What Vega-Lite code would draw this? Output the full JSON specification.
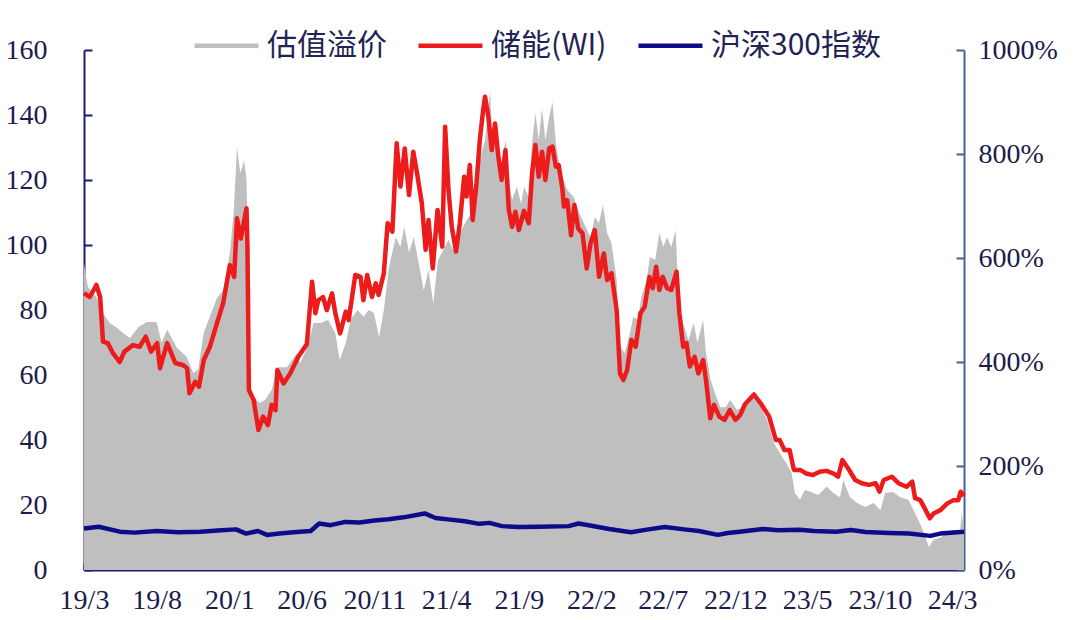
{
  "$schema": "https://vega.github.io/schema/vega-lite/v6.json",
  "width": 880,
  "height": 520,
  "autosize": {"type": "none"},
  "padding": {"left": 84, "top": 50, "right": 116, "bottom": 50},
  "background": "white",
  "config": {
    "view": {"stroke": null},
    "axis": {"grid": false, "labelFont": "Liberation Serif", "labelFontSize": 28, "labelColor": "#1b1b4d", "title": null}
  },
  "datasets": {
    "premium": [
      {"date": "2019-03-01", "premium": 5.90}, {"date": "2019-03-09", "premium": 5.44}, {"date": "2019-03-27", "premium": 5.25},
      {"date": "2019-04-10", "premium": 4.94}, {"date": "2019-04-24", "premium": 4.75}, {"date": "2019-05-08", "premium": 4.67},
      {"date": "2019-05-22", "premium": 4.56}, {"date": "2019-06-06", "premium": 4.46}, {"date": "2019-06-23", "premium": 4.67},
      {"date": "2019-07-11", "premium": 4.77}, {"date": "2019-08-01", "premium": 4.77}, {"date": "2019-08-11", "premium": 4.37},
      {"date": "2019-08-23", "premium": 4.62}, {"date": "2019-09-13", "premium": 4.27}, {"date": "2019-10-03", "premium": 4.10},
      {"date": "2019-10-17", "premium": 3.79}, {"date": "2019-10-27", "premium": 3.85}, {"date": "2019-11-08", "premium": 4.56},
      {"date": "2019-11-18", "premium": 4.81}, {"date": "2019-12-06", "premium": 5.23}, {"date": "2019-12-19", "premium": 5.38},
      {"date": "2020-01-02", "premium": 6.10}, {"date": "2020-01-10", "premium": 6.87}, {"date": "2020-01-17", "premium": 8.13},
      {"date": "2020-01-24", "premium": 7.63}, {"date": "2020-02-01", "premium": 7.88}, {"date": "2020-02-06", "premium": 7.50},
      {"date": "2020-02-09", "premium": 6.35}, {"date": "2020-02-11", "premium": 3.65}, {"date": "2020-02-21", "premium": 3.33},
      {"date": "2020-03-05", "premium": 3.21}, {"date": "2020-03-16", "premium": 3.27}, {"date": "2020-03-30", "premium": 3.46},
      {"date": "2020-04-10", "premium": 3.90}, {"date": "2020-05-01", "premium": 3.90}, {"date": "2020-05-22", "premium": 4.17},
      {"date": "2020-05-29", "premium": 3.98}, {"date": "2020-06-12", "premium": 4.26}, {"date": "2020-06-26", "premium": 4.75},
      {"date": "2020-07-10", "premium": 4.75}, {"date": "2020-07-27", "premium": 4.81}, {"date": "2020-08-11", "premium": 4.56},
      {"date": "2020-08-20", "premium": 4.04}, {"date": "2020-09-02", "premium": 4.37}, {"date": "2020-09-12", "premium": 4.81},
      {"date": "2020-09-26", "premium": 5.00}, {"date": "2020-10-10", "premium": 4.87}, {"date": "2020-10-20", "premium": 5.00},
      {"date": "2020-10-31", "premium": 4.94}, {"date": "2020-11-11", "premium": 4.48}, {"date": "2020-11-21", "premium": 5.00},
      {"date": "2020-12-02", "premium": 5.83}, {"date": "2020-12-16", "premium": 6.40}, {"date": "2020-12-26", "premium": 6.21},
      {"date": "2021-01-03", "premium": 6.60}, {"date": "2021-01-13", "premium": 6.10}, {"date": "2021-01-23", "premium": 6.40},
      {"date": "2021-02-04", "premium": 5.83}, {"date": "2021-02-13", "premium": 5.38}, {"date": "2021-02-23", "premium": 5.77},
      {"date": "2021-03-05", "premium": 5.13}, {"date": "2021-03-15", "premium": 5.96}, {"date": "2021-03-26", "premium": 6.15},
      {"date": "2021-04-06", "premium": 6.35}, {"date": "2021-04-16", "premium": 6.15}, {"date": "2021-04-27", "premium": 6.40},
      {"date": "2021-05-07", "premium": 6.60}, {"date": "2021-05-18", "premium": 6.79}, {"date": "2021-05-28", "premium": 6.87},
      {"date": "2021-06-05", "premium": 7.63}, {"date": "2021-06-15", "premium": 8.02}, {"date": "2021-06-22", "premium": 8.27},
      {"date": "2021-06-29", "premium": 8.90}, {"date": "2021-07-03", "premium": 9.19}, {"date": "2021-07-06", "premium": 8.46},
      {"date": "2021-07-17", "premium": 8.13}, {"date": "2021-07-27", "premium": 7.83}, {"date": "2021-08-04", "premium": 8.27},
      {"date": "2021-08-11", "premium": 7.50}, {"date": "2021-08-18", "premium": 7.12}, {"date": "2021-08-28", "premium": 7.37},
      {"date": "2021-09-06", "premium": 7.05}, {"date": "2021-09-12", "premium": 7.37}, {"date": "2021-09-22", "premium": 7.17},
      {"date": "2021-09-29", "premium": 8.21}, {"date": "2021-10-06", "premium": 8.79}, {"date": "2021-10-13", "premium": 8.27},
      {"date": "2021-10-20", "premium": 8.88}, {"date": "2021-10-27", "premium": 8.27}, {"date": "2021-11-04", "premium": 8.71},
      {"date": "2021-11-11", "premium": 9.00}, {"date": "2021-11-18", "premium": 8.21}, {"date": "2021-11-24", "premium": 7.88},
      {"date": "2021-12-02", "premium": 7.56}, {"date": "2021-12-12", "premium": 7.31}, {"date": "2021-12-26", "premium": 7.17},
      {"date": "2022-01-06", "premium": 6.87}, {"date": "2022-01-16", "premium": 6.67}, {"date": "2022-01-30", "premium": 6.40},
      {"date": "2022-02-08", "premium": 6.79}, {"date": "2022-02-17", "premium": 6.67}, {"date": "2022-02-25", "premium": 7.02},
      {"date": "2022-03-06", "premium": 6.48}, {"date": "2022-03-15", "premium": 6.29}, {"date": "2022-03-26", "premium": 5.58},
      {"date": "2022-04-02", "premium": 4.29}, {"date": "2022-04-12", "premium": 4.17}, {"date": "2022-04-23", "premium": 4.56},
      {"date": "2022-04-30", "premium": 4.87}, {"date": "2022-05-10", "premium": 4.81}, {"date": "2022-05-17", "premium": 5.25},
      {"date": "2022-05-28", "premium": 5.58}, {"date": "2022-06-04", "premium": 6.02}, {"date": "2022-06-15", "premium": 5.96},
      {"date": "2022-06-24", "premium": 6.48}, {"date": "2022-07-02", "premium": 6.21}, {"date": "2022-07-10", "premium": 6.40},
      {"date": "2022-07-19", "premium": 6.21}, {"date": "2022-07-28", "premium": 6.54}, {"date": "2022-08-05", "premium": 4.94},
      {"date": "2022-08-13", "premium": 4.75}, {"date": "2022-08-24", "premium": 4.42}, {"date": "2022-09-04", "premium": 4.75},
      {"date": "2022-09-12", "premium": 4.37}, {"date": "2022-09-24", "premium": 4.81}, {"date": "2022-09-30", "premium": 4.17},
      {"date": "2022-10-10", "premium": 3.65}, {"date": "2022-10-19", "premium": 3.40}, {"date": "2022-10-30", "premium": 3.13},
      {"date": "2022-11-10", "premium": 3.13}, {"date": "2022-11-20", "premium": 3.27}, {"date": "2022-12-04", "premium": 3.08},
      {"date": "2022-12-18", "premium": 3.13}, {"date": "2023-01-02", "premium": 3.27}, {"date": "2023-01-09", "premium": 3.33},
      {"date": "2023-01-23", "premium": 3.13}, {"date": "2023-02-06", "premium": 2.88}, {"date": "2023-02-20", "premium": 2.44},
      {"date": "2023-03-04", "premium": 2.25}, {"date": "2023-03-18", "premium": 2.06}, {"date": "2023-03-29", "premium": 1.87},
      {"date": "2023-04-05", "premium": 1.48}, {"date": "2023-04-16", "premium": 1.35}, {"date": "2023-04-26", "premium": 1.54},
      {"date": "2023-05-10", "premium": 1.50}, {"date": "2023-05-24", "premium": 1.44}, {"date": "2023-06-11", "premium": 1.60},
      {"date": "2023-06-25", "premium": 1.48}, {"date": "2023-07-09", "premium": 1.40}, {"date": "2023-07-16", "premium": 1.73},
      {"date": "2023-07-30", "premium": 1.40}, {"date": "2023-08-14", "premium": 1.29}, {"date": "2023-08-31", "premium": 1.21},
      {"date": "2023-09-18", "premium": 1.29}, {"date": "2023-10-02", "premium": 1.15}, {"date": "2023-10-12", "premium": 1.48},
      {"date": "2023-10-29", "premium": 1.50}, {"date": "2023-11-13", "premium": 1.40}, {"date": "2023-11-30", "premium": 1.35},
      {"date": "2023-12-11", "premium": 1.15}, {"date": "2023-12-21", "premium": 0.96}, {"date": "2024-01-02", "premium": 0.71},
      {"date": "2024-01-12", "premium": 0.44}, {"date": "2024-01-22", "premium": 0.58}, {"date": "2024-02-06", "premium": 0.63},
      {"date": "2024-02-20", "premium": 0.71}, {"date": "2024-03-04", "premium": 0.77}, {"date": "2024-03-18", "premium": 0.77},
      {"date": "2024-03-21", "premium": 1.10}, {"date": "2024-03-26", "premium": 0.77}
    ],
    "index": [
      {"date": "2019-03-01", "series": "沪深300指数", "value": 12.8}, {"date": "2019-04-01", "series": "沪深300指数", "value": 13.3},
      {"date": "2019-05-15", "series": "沪深300指数", "value": 11.8}, {"date": "2019-06-15", "series": "沪深300指数", "value": 11.5},
      {"date": "2019-08-01", "series": "沪深300指数", "value": 12.0}, {"date": "2019-09-15", "series": "沪深300指数", "value": 11.6},
      {"date": "2019-11-01", "series": "沪深300指数", "value": 11.8}, {"date": "2019-12-15", "series": "沪深300指数", "value": 12.2},
      {"date": "2020-01-15", "series": "沪深300指数", "value": 12.5}, {"date": "2020-02-05", "series": "沪深300指数", "value": 11.2},
      {"date": "2020-03-01", "series": "沪深300指数", "value": 12.0}, {"date": "2020-03-20", "series": "沪深300指数", "value": 10.8},
      {"date": "2020-04-15", "series": "沪深300指数", "value": 11.2}, {"date": "2020-05-15", "series": "沪深300指数", "value": 11.6},
      {"date": "2020-06-20", "series": "沪深300指数", "value": 12.0}, {"date": "2020-07-08", "series": "沪深300指数", "value": 14.3},
      {"date": "2020-08-01", "series": "沪深300指数", "value": 13.8}, {"date": "2020-09-01", "series": "沪深300指数", "value": 14.8},
      {"date": "2020-10-01", "series": "沪深300指数", "value": 14.6}, {"date": "2020-11-01", "series": "沪深300指数", "value": 15.2},
      {"date": "2020-12-01", "series": "沪深300指数", "value": 15.6}, {"date": "2021-01-01", "series": "沪深300指数", "value": 16.2},
      {"date": "2021-02-15", "series": "沪深300指数", "value": 17.4}, {"date": "2021-03-10", "series": "沪深300指数", "value": 16.0},
      {"date": "2021-04-10", "series": "沪深300指数", "value": 15.5}, {"date": "2021-05-10", "series": "沪深300指数", "value": 15.0},
      {"date": "2021-06-10", "series": "沪深300指数", "value": 14.2}, {"date": "2021-07-01", "series": "沪深300指数", "value": 14.5},
      {"date": "2021-07-28", "series": "沪深300指数", "value": 13.5}, {"date": "2021-09-01", "series": "沪深300指数", "value": 13.2},
      {"date": "2021-10-15", "series": "沪深300指数", "value": 13.3}, {"date": "2021-12-15", "series": "沪深300指数", "value": 13.5},
      {"date": "2022-01-05", "series": "沪深300指数", "value": 14.3}, {"date": "2022-02-01", "series": "沪深300指数", "value": 13.6},
      {"date": "2022-03-10", "series": "沪深300指数", "value": 12.6}, {"date": "2022-04-25", "series": "沪深300指数", "value": 11.6},
      {"date": "2022-06-01", "series": "沪深300指数", "value": 12.5}, {"date": "2022-07-05", "series": "沪深300指数", "value": 13.2},
      {"date": "2022-08-15", "series": "沪深300指数", "value": 12.5}, {"date": "2022-09-15", "series": "沪深300指数", "value": 12.0},
      {"date": "2022-10-25", "series": "沪深300指数", "value": 10.8}, {"date": "2022-11-15", "series": "沪深300指数", "value": 11.4},
      {"date": "2022-12-10", "series": "沪深300指数", "value": 11.8}, {"date": "2023-01-28", "series": "沪深300指数", "value": 12.6},
      {"date": "2023-03-01", "series": "沪深300指数", "value": 12.2}, {"date": "2023-04-15", "series": "沪深300指数", "value": 12.4},
      {"date": "2023-05-15", "series": "沪深300指数", "value": 12.0}, {"date": "2023-07-01", "series": "沪深300指数", "value": 11.8},
      {"date": "2023-08-01", "series": "沪深300指数", "value": 12.3}, {"date": "2023-09-01", "series": "沪深300指数", "value": 11.7},
      {"date": "2023-10-20", "series": "沪深300指数", "value": 11.4}, {"date": "2023-12-01", "series": "沪深300指数", "value": 11.2},
      {"date": "2024-01-15", "series": "沪深300指数", "value": 10.5}, {"date": "2024-02-05", "series": "沪深300指数", "value": 11.2},
      {"date": "2024-03-26", "series": "沪深300指数", "value": 11.8},
      {"date": "2019-03-01", "series": "储能(WI)", "value": 85.2}, {"date": "2019-03-13", "series": "储能(WI)", "value": 84},
      {"date": "2019-03-27", "series": "储能(WI)", "value": 87.7}, {"date": "2019-04-04", "series": "储能(WI)", "value": 84},
      {"date": "2019-04-10", "series": "储能(WI)", "value": 70.3}, {"date": "2019-04-20", "series": "储能(WI)", "value": 69.8},
      {"date": "2019-05-01", "series": "储能(WI)", "value": 66.7}, {"date": "2019-05-15", "series": "储能(WI)", "value": 64},
      {"date": "2019-05-25", "series": "储能(WI)", "value": 67.2}, {"date": "2019-06-12", "series": "储能(WI)", "value": 69.2},
      {"date": "2019-06-26", "series": "储能(WI)", "value": 68.7}, {"date": "2019-07-09", "series": "储能(WI)", "value": 71.8},
      {"date": "2019-07-20", "series": "储能(WI)", "value": 67.2}, {"date": "2019-08-02", "series": "储能(WI)", "value": 69.8},
      {"date": "2019-08-08", "series": "储能(WI)", "value": 62.1}, {"date": "2019-08-23", "series": "储能(WI)", "value": 69.8},
      {"date": "2019-09-09", "series": "储能(WI)", "value": 63.7}, {"date": "2019-09-26", "series": "储能(WI)", "value": 63},
      {"date": "2019-10-04", "series": "储能(WI)", "value": 62.1}, {"date": "2019-10-09", "series": "储能(WI)", "value": 54.4},
      {"date": "2019-10-21", "series": "储能(WI)", "value": 57.9}, {"date": "2019-10-29", "series": "储能(WI)", "value": 56.4},
      {"date": "2019-11-08", "series": "储能(WI)", "value": 64.6}, {"date": "2019-11-21", "series": "储能(WI)", "value": 68.7},
      {"date": "2019-12-06", "series": "储能(WI)", "value": 76}, {"date": "2019-12-19", "series": "储能(WI)", "value": 82.2},
      {"date": "2020-01-02", "series": "储能(WI)", "value": 93.8}, {"date": "2020-01-11", "series": "储能(WI)", "value": 90.2},
      {"date": "2020-01-17", "series": "储能(WI)", "value": 108.2}, {"date": "2020-01-25", "series": "储能(WI)", "value": 102},
      {"date": "2020-02-06", "series": "储能(WI)", "value": 111.3}, {"date": "2020-02-08", "series": "储能(WI)", "value": 99.5},
      {"date": "2020-02-11", "series": "储能(WI)", "value": 55.4}, {"date": "2020-02-21", "series": "储能(WI)", "value": 52.3},
      {"date": "2020-03-02", "series": "储能(WI)", "value": 43.1}, {"date": "2020-03-12", "series": "储能(WI)", "value": 47.2},
      {"date": "2020-03-22", "series": "储能(WI)", "value": 44.6}, {"date": "2020-03-30", "series": "储能(WI)", "value": 50.8},
      {"date": "2020-04-07", "series": "储能(WI)", "value": 49.2}, {"date": "2020-04-11", "series": "储能(WI)", "value": 61.5},
      {"date": "2020-04-24", "series": "储能(WI)", "value": 57.4}, {"date": "2020-05-08", "series": "储能(WI)", "value": 60.5},
      {"date": "2020-05-25", "series": "储能(WI)", "value": 65.6}, {"date": "2020-06-12", "series": "储能(WI)", "value": 69.5},
      {"date": "2020-06-23", "series": "储能(WI)", "value": 88.7}, {"date": "2020-06-30", "series": "储能(WI)", "value": 79},
      {"date": "2020-07-06", "series": "储能(WI)", "value": 83}, {"date": "2020-07-16", "series": "储能(WI)", "value": 84},
      {"date": "2020-07-24", "series": "储能(WI)", "value": 80}, {"date": "2020-08-04", "series": "储能(WI)", "value": 85.1},
      {"date": "2020-08-11", "series": "储能(WI)", "value": 79}, {"date": "2020-08-21", "series": "储能(WI)", "value": 72.8},
      {"date": "2020-09-02", "series": "储能(WI)", "value": 79.5}, {"date": "2020-09-08", "series": "储能(WI)", "value": 76.9},
      {"date": "2020-09-22", "series": "储能(WI)", "value": 90.8}, {"date": "2020-10-03", "series": "储能(WI)", "value": 90.2},
      {"date": "2020-10-09", "series": "储能(WI)", "value": 83}, {"date": "2020-10-17", "series": "储能(WI)", "value": 90.8},
      {"date": "2020-10-27", "series": "储能(WI)", "value": 84}, {"date": "2020-11-04", "series": "储能(WI)", "value": 88.2},
      {"date": "2020-11-10", "series": "储能(WI)", "value": 84.6}, {"date": "2020-11-21", "series": "储能(WI)", "value": 91.3},
      {"date": "2020-11-29", "series": "储能(WI)", "value": 106.7}, {"date": "2020-12-09", "series": "储能(WI)", "value": 104.1},
      {"date": "2020-12-18", "series": "储能(WI)", "value": 131.3}, {"date": "2020-12-26", "series": "储能(WI)", "value": 118},
      {"date": "2021-01-04", "series": "储能(WI)", "value": 129.7}, {"date": "2021-01-13", "series": "储能(WI)", "value": 115.4},
      {"date": "2021-01-22", "series": "储能(WI)", "value": 128.7}, {"date": "2021-01-30", "series": "储能(WI)", "value": 122},
      {"date": "2021-02-09", "series": "储能(WI)", "value": 112.8}, {"date": "2021-02-17", "series": "储能(WI)", "value": 98.5},
      {"date": "2021-02-23", "series": "储能(WI)", "value": 107.7}, {"date": "2021-03-04", "series": "储能(WI)", "value": 92.8},
      {"date": "2021-03-14", "series": "储能(WI)", "value": 110.8}, {"date": "2021-03-24", "series": "储能(WI)", "value": 99.5},
      {"date": "2021-03-30", "series": "储能(WI)", "value": 136.4}, {"date": "2021-04-06", "series": "储能(WI)", "value": 117},
      {"date": "2021-04-13", "series": "储能(WI)", "value": 105.6}, {"date": "2021-04-22", "series": "储能(WI)", "value": 98},
      {"date": "2021-04-30", "series": "储能(WI)", "value": 106.7}, {"date": "2021-05-09", "series": "储能(WI)", "value": 121},
      {"date": "2021-05-14", "series": "储能(WI)", "value": 114.9}, {"date": "2021-05-21", "series": "储能(WI)", "value": 124.6},
      {"date": "2021-05-27", "series": "储能(WI)", "value": 107.7}, {"date": "2021-06-04", "series": "储能(WI)", "value": 119},
      {"date": "2021-06-11", "series": "储能(WI)", "value": 132.3}, {"date": "2021-06-18", "series": "储能(WI)", "value": 141.5},
      {"date": "2021-06-22", "series": "储能(WI)", "value": 145.6}, {"date": "2021-06-29", "series": "储能(WI)", "value": 139.5},
      {"date": "2021-07-06", "series": "储能(WI)", "value": 129.2}, {"date": "2021-07-13", "series": "储能(WI)", "value": 137.4},
      {"date": "2021-07-20", "series": "储能(WI)", "value": 127.2}, {"date": "2021-07-27", "series": "储能(WI)", "value": 120},
      {"date": "2021-08-04", "series": "储能(WI)", "value": 129.2}, {"date": "2021-08-11", "series": "储能(WI)", "value": 110.8},
      {"date": "2021-08-18", "series": "储能(WI)", "value": 105.6}, {"date": "2021-08-25", "series": "储能(WI)", "value": 110.2},
      {"date": "2021-09-01", "series": "储能(WI)", "value": 104.6}, {"date": "2021-09-12", "series": "储能(WI)", "value": 110.5},
      {"date": "2021-09-22", "series": "储能(WI)", "value": 106.7}, {"date": "2021-09-29", "series": "储能(WI)", "value": 122},
      {"date": "2021-10-06", "series": "储能(WI)", "value": 130.8}, {"date": "2021-10-13", "series": "储能(WI)", "value": 121},
      {"date": "2021-10-20", "series": "储能(WI)", "value": 128.7}, {"date": "2021-10-27", "series": "储能(WI)", "value": 120},
      {"date": "2021-11-04", "series": "储能(WI)", "value": 129.7}, {"date": "2021-11-11", "series": "储能(WI)", "value": 130.3},
      {"date": "2021-11-18", "series": "储能(WI)", "value": 124.1}, {"date": "2021-11-24", "series": "储能(WI)", "value": 124.6},
      {"date": "2021-12-02", "series": "储能(WI)", "value": 117}, {"date": "2021-12-05", "series": "储能(WI)", "value": 111.8},
      {"date": "2021-12-12", "series": "储能(WI)", "value": 113.8}, {"date": "2021-12-20", "series": "储能(WI)", "value": 103},
      {"date": "2021-12-27", "series": "储能(WI)", "value": 112.3}, {"date": "2022-01-04", "series": "储能(WI)", "value": 105.1},
      {"date": "2022-01-13", "series": "储能(WI)", "value": 103.6}, {"date": "2022-01-22", "series": "储能(WI)", "value": 92.8},
      {"date": "2022-01-30", "series": "储能(WI)", "value": 100.5}, {"date": "2022-02-08", "series": "储能(WI)", "value": 104.6},
      {"date": "2022-02-17", "series": "储能(WI)", "value": 90.2}, {"date": "2022-02-27", "series": "储能(WI)", "value": 97.4},
      {"date": "2022-03-06", "series": "储能(WI)", "value": 89.2}, {"date": "2022-03-15", "series": "储能(WI)", "value": 91.3},
      {"date": "2022-03-26", "series": "储能(WI)", "value": 80}, {"date": "2022-04-02", "series": "储能(WI)", "value": 60.5},
      {"date": "2022-04-09", "series": "储能(WI)", "value": 58.5}, {"date": "2022-04-17", "series": "储能(WI)", "value": 61.5},
      {"date": "2022-04-26", "series": "储能(WI)", "value": 70.8}, {"date": "2022-05-05", "series": "储能(WI)", "value": 68.7},
      {"date": "2022-05-15", "series": "储能(WI)", "value": 79}, {"date": "2022-05-24", "series": "储能(WI)", "value": 81},
      {"date": "2022-06-03", "series": "储能(WI)", "value": 90.2}, {"date": "2022-06-10", "series": "储能(WI)", "value": 86.7},
      {"date": "2022-06-17", "series": "储能(WI)", "value": 93.3}, {"date": "2022-06-24", "series": "储能(WI)", "value": 86.2},
      {"date": "2022-07-01", "series": "储能(WI)", "value": 90.2}, {"date": "2022-07-10", "series": "储能(WI)", "value": 86.7},
      {"date": "2022-07-19", "series": "储能(WI)", "value": 86.2}, {"date": "2022-07-30", "series": "储能(WI)", "value": 91.8},
      {"date": "2022-08-05", "series": "储能(WI)", "value": 79}, {"date": "2022-08-13", "series": "储能(WI)", "value": 68.7},
      {"date": "2022-08-20", "series": "储能(WI)", "value": 69.8}, {"date": "2022-08-27", "series": "储能(WI)", "value": 62.6},
      {"date": "2022-09-06", "series": "储能(WI)", "value": 65.6}, {"date": "2022-09-14", "series": "储能(WI)", "value": 60.5},
      {"date": "2022-09-24", "series": "储能(WI)", "value": 64.6}, {"date": "2022-09-30", "series": "储能(WI)", "value": 58.5},
      {"date": "2022-10-09", "series": "储能(WI)", "value": 46.7}, {"date": "2022-10-17", "series": "储能(WI)", "value": 50.8},
      {"date": "2022-10-28", "series": "储能(WI)", "value": 47.2}, {"date": "2022-11-08", "series": "储能(WI)", "value": 46.2},
      {"date": "2022-11-19", "series": "储能(WI)", "value": 49.2}, {"date": "2022-12-01", "series": "储能(WI)", "value": 46.2},
      {"date": "2022-12-11", "series": "储能(WI)", "value": 47.7}, {"date": "2022-12-21", "series": "储能(WI)", "value": 51},
      {"date": "2023-01-09", "series": "储能(WI)", "value": 54}, {"date": "2023-01-23", "series": "储能(WI)", "value": 51.3},
      {"date": "2023-02-10", "series": "储能(WI)", "value": 47.2}, {"date": "2023-02-24", "series": "储能(WI)", "value": 40},
      {"date": "2023-03-04", "series": "储能(WI)", "value": 40}, {"date": "2023-03-14", "series": "储能(WI)", "value": 36.9},
      {"date": "2023-03-25", "series": "储能(WI)", "value": 36.9}, {"date": "2023-04-03", "series": "储能(WI)", "value": 30.8},
      {"date": "2023-04-16", "series": "储能(WI)", "value": 30.8}, {"date": "2023-04-29", "series": "储能(WI)", "value": 29.7},
      {"date": "2023-05-13", "series": "储能(WI)", "value": 29.2}, {"date": "2023-05-27", "series": "储能(WI)", "value": 30.2},
      {"date": "2023-06-11", "series": "储能(WI)", "value": 30.5}, {"date": "2023-06-25", "series": "储能(WI)", "value": 29.7},
      {"date": "2023-07-05", "series": "储能(WI)", "value": 28.7}, {"date": "2023-07-14", "series": "储能(WI)", "value": 33.8},
      {"date": "2023-07-26", "series": "储能(WI)", "value": 31.3}, {"date": "2023-08-10", "series": "储能(WI)", "value": 27.7},
      {"date": "2023-08-24", "series": "储能(WI)", "value": 26.7}, {"date": "2023-09-08", "series": "储能(WI)", "value": 26.2},
      {"date": "2023-09-22", "series": "储能(WI)", "value": 26.7}, {"date": "2023-09-30", "series": "储能(WI)", "value": 24.1},
      {"date": "2023-10-09", "series": "储能(WI)", "value": 27.7}, {"date": "2023-10-26", "series": "储能(WI)", "value": 28.7},
      {"date": "2023-11-09", "series": "储能(WI)", "value": 26.7}, {"date": "2023-11-26", "series": "储能(WI)", "value": 25.6},
      {"date": "2023-12-08", "series": "储能(WI)", "value": 27.2}, {"date": "2023-12-14", "series": "储能(WI)", "value": 22.1},
      {"date": "2023-12-25", "series": "储能(WI)", "value": 21.5}, {"date": "2024-01-05", "series": "储能(WI)", "value": 18.5},
      {"date": "2024-01-14", "series": "储能(WI)", "value": 15.9}, {"date": "2024-01-22", "series": "储能(WI)", "value": 17.4},
      {"date": "2024-02-06", "series": "储能(WI)", "value": 18.5}, {"date": "2024-02-20", "series": "储能(WI)", "value": 20.5},
      {"date": "2024-03-04", "series": "储能(WI)", "value": 21.5}, {"date": "2024-03-14", "series": "储能(WI)", "value": 21.5},
      {"date": "2024-03-19", "series": "储能(WI)", "value": 24.1}, {"date": "2024-03-26", "series": "储能(WI)", "value": 22.8}
    ]
  },
  "layer": [
    {
      "data": {"name": "premium"},
      "mark": {"type": "area", "opacity": 1},
      "encoding": {
        "x": {
          "field": "date", "type": "temporal",
          "scale": {"type": "utc", "nice": false, "domain": [{"year": 2019, "month": 3, "date": 1, "utc": true}, {"year": 2024, "month": 3, "date": 26, "utc": true}]},
          "axis": {
            "values": [
              {"year": 2019, "month": 3, "date": 1, "utc": true}, {"year": 2019, "month": 8, "date": 1, "utc": true},
              {"year": 2020, "month": 1, "date": 1, "utc": true}, {"year": 2020, "month": 6, "date": 1, "utc": true},
              {"year": 2020, "month": 11, "date": 1, "utc": true}, {"year": 2021, "month": 4, "date": 1, "utc": true},
              {"year": 2021, "month": 9, "date": 1, "utc": true}, {"year": 2022, "month": 2, "date": 1, "utc": true},
              {"year": 2022, "month": 7, "date": 1, "utc": true}, {"year": 2022, "month": 12, "date": 1, "utc": true},
              {"year": 2023, "month": 5, "date": 1, "utc": true}, {"year": 2023, "month": 10, "date": 1, "utc": true},
              {"year": 2024, "month": 3, "date": 1, "utc": true}
            ],
            "format": "%y/%-m", "labelFlush": false, "labelOverlap": false,
            "domainColor": "#1c1c70", "domainWidth": 2, "tickColor": "#1c1c70", "tickWidth": 2,
            "tickSize": -7, "labelPadding": 23
          }
        },
        "y": {
          "field": "premium", "type": "quantitative",
          "scale": {"domain": [0, 10], "nice": false},
          "axis": {
            "orient": "right", "values": [0, 2, 4, 6, 8, 10], "format": ".0%",
            "domainColor": "#44628f", "domainWidth": 2, "tickColor": "#44628f", "tickWidth": 2,
            "tickSize": -8, "labelPadding": 22, "labelAlign": "left", "labelBaseline": "middle"
          }
        },
        "color": {
          "datum": "估值溢价",
          "scale": {"domain": ["估值溢价", "储能(WI)", "沪深300指数"], "range": ["#bfbfbf", "#ec1c1c", "#0c0c8a"]},
          "legend": {
            "title": null, "orient": "none", "direction": "horizontal", "columns": 3,
            "legendX": 108, "legendY": -39, "padding": 0,
            "symbolType": "stroke", "symbolSize": 4096, "symbolStrokeWidth": 4.5,
            "labelFont": "Noto Sans CJK SC", "labelFontSize": 30, "labelColor": "#1f2455",
            "labelOffset": 6, "columnPadding": 22, "labelLimit": 400,
            "encode": {
              "symbols": {
                "update": {
                  "stroke": {"scale": "color", "field": "value"},
                  "fill": {"value": "transparent"},
                  "opacity": {"value": 1},
                  "strokeWidth": {"signal": "datum.value === '估值溢价' ? 15 : 4.5"}
                }
              }
            }
          }
        }
      }
    },
    {
      "data": {"name": "index"},
      "mark": {"type": "line", "strokeWidth": 4.5, "strokeJoin": "round"},
      "encoding": {
        "x": {"field": "date", "type": "temporal"},
        "y": {
          "field": "value", "type": "quantitative",
          "scale": {"domain": [0, 160], "nice": false},
          "axis": {
            "orient": "left", "values": [0, 20, 40, 60, 80, 100, 120, 140, 160],
            "domainColor": "#1c1c70", "domainWidth": 2, "tickColor": "#1c1c70", "tickWidth": 2,
            "tickSize": -8, "labelPadding": 45, "labelAlign": "right", "labelBaseline": "middle"
          }
        },
        "color": {"field": "series", "type": "nominal", "legend": {"title": null}},
        "detail": {"field": "series"}
      }
    }
  ],
  "resolve": {"scale": {"y": "independent"}}
}
